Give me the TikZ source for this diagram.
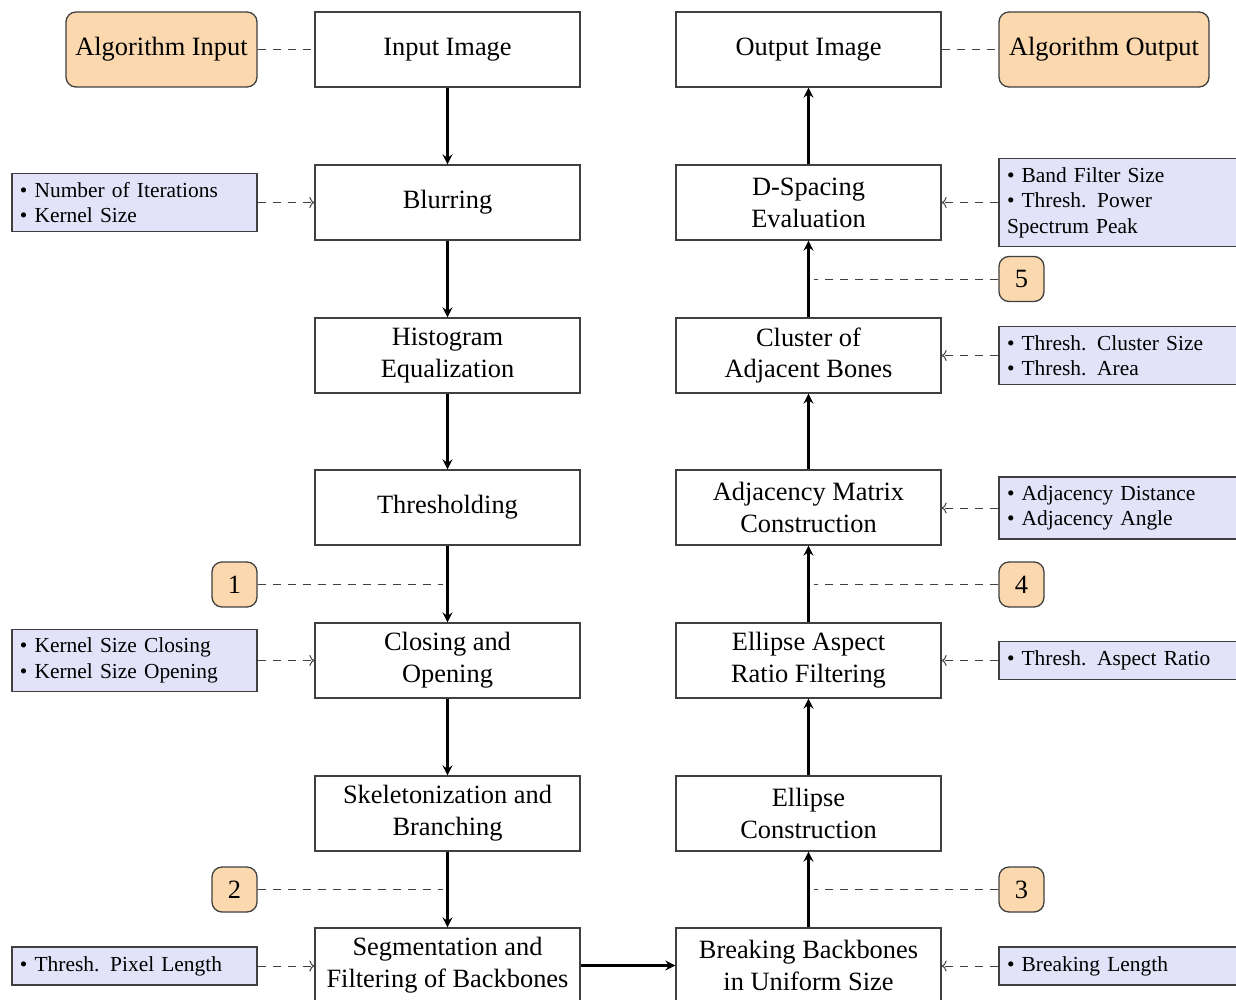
\documentclass[tikz,border=0pt]{standalone}
\usepackage{fontspec}
\setmainfont{Liberation Serif}
\usetikzlibrary{arrows.meta}
\definecolor{paramblue}{HTML}{E2E2F9}
\definecolor{ioorange}{HTML}{FBD8AE}
\definecolor{edge}{HTML}{404040}

\begin{document}
\begin{tikzpicture}[x=1bp,y=-1bp,
  procbox/.style={draw=edge, line width=1.3bp, fill=white, minimum width=265bp,
    minimum height=75bp, align=center, inner sep=0pt,
    font=\fontsize{26.5}{32}\selectfont},
  iobox/.style={draw=edge, line width=1.3bp, fill=ioorange, rounded corners=10bp,
    minimum height=75bp, inner sep=0pt, font=\fontsize{26.5}{32}\selectfont},
  parambox/.style={draw=edge, line width=1.3bp, fill=paramblue, text width=229bp,
    align=left, inner xsep=8bp, inner ysep=3bp,
    font=\fontsize{21.5}{25.5}\selectfont},
  badge/.style={draw=edge, line width=1.3bp, fill=ioorange, rounded corners=10bp,
    minimum size=45bp, inner sep=0pt, font=\fontsize{26.5}{32}\selectfont},
  flow/.style={line width=2.1bp, -{Stealth[length=10bp,width=10bp,inset=3.5bp]}},
  link/.style={draw=edge, line width=1bp, dash pattern=on 8bp off 7bp},
  feed/.style={link, -{To[length=5bp,width=11bp]}},
]
\clip (0,0) rectangle (1236,1000);
\fill[white] (0,0) rectangle (1236,1000);

% left column: preprocessing
\node[iobox, minimum width=191bp] (ain) at (161.5,49.5) {Algorithm Input};
\node[procbox] (in)    at (447.5,49.5)  {Input Image};
\node[procbox] (blur)  at (447.5,202.5) {Blurring};
\node[procbox] (hist)  at (447.5,355.5) {Histogram\\Equalization};
\node[procbox] (thr)   at (447.5,507.5) {Thresholding};
\node[procbox] (close) at (447.5,660.5) {Closing and\\Opening};
\node[procbox] (skel)  at (447.5,813.5) {Skeletonization and\\Branching};
\node[procbox] (seg)   at (447.5,965.5) {Segmentation and\\Filtering of Backbones};

% right column: bone analysis
\node[procbox] (out)  at (808.5,49.5)  {Output Image};
\node[iobox, minimum width=210bp] (aout) at (1104,49.5) {Algorithm Output};
\node[procbox] (dsp)  at (808.5,202.5) {D-Spacing\\Evaluation};
\node[procbox] (clu)  at (808.5,355.5) {Cluster of\\Adjacent Bones};
\node[procbox] (adj)  at (808.5,507.5) {Adjacency Matrix\\Construction};
\node[procbox] (asp)  at (808.5,660.5) {Ellipse Aspect\\Ratio Filtering};
\node[procbox] (ell)  at (808.5,813.5) {Ellipse\\Construction};
\node[procbox] (brk)  at (808.5,965.5) {Breaking Backbones\\in Uniform Size};

% parameter boxes
\node[parambox, minimum height=58bp] (pblur) at (134.5,202.5)
  {\textbullet\ Number of Iterations\\\textbullet\ Kernel Size};
\node[parambox, minimum height=62bp] (pclose) at (134.5,660.5)
  {\textbullet\ Kernel Size Closing\\\textbullet\ Kernel Size Opening};
\node[parambox, minimum height=38bp] (pseg) at (134.5,966)
  {\textbullet\ Thresh. Pixel Length};
\node[parambox, minimum height=88bp] (pdsp) at (1121.5,202.5)
  {\textbullet\ Band Filter Size\\\textbullet\ Thresh. Power\\Spectrum Peak};
\node[parambox, minimum height=58bp] (pclu) at (1121.5,355.5)
  {\textbullet\ Thresh. Cluster Size\\\textbullet\ Thresh. Area};
\node[parambox, minimum height=62bp] (padj) at (1121.5,508)
  {\textbullet\ Adjacency Distance\\\textbullet\ Adjacency Angle};
\node[parambox, minimum height=38bp] (pasp) at (1121.5,660.5)
  {\textbullet\ Thresh. Aspect Ratio};
\node[parambox, minimum height=38bp] (pbrk) at (1121.5,966)
  {\textbullet\ Breaking Length};

% stage markers
\node[badge] (b1) at (234.5,584.5)  {1};
\node[badge] (b2) at (234.5,889.5)  {2};
\node[badge] (b3) at (1021.5,889.5) {3};
\node[badge] (b4) at (1021.5,584.5) {4};
\node[badge] (b5) at (1021.5,279)   {5};
\coordinate (j1) at (443,584.5);
\coordinate (j2) at (443,889.5);
\coordinate (j3) at (814,889.5);
\coordinate (j4) at (814,584.5);
\coordinate (j5) at (814,279);

% processing flow
\draw[flow] (in) -- (blur);
\draw[flow] (blur) -- (hist);
\draw[flow] (hist) -- (thr);
\draw[flow] (thr) -- (close);
\draw[flow] (close) -- (skel);
\draw[flow] (skel) -- (seg);
\draw[flow] (seg) -- (brk);
\draw[flow] (brk) -- (ell);
\draw[flow] (ell) -- (asp);
\draw[flow] (asp) -- (adj);
\draw[flow] (adj) -- (clu);
\draw[flow] (clu) -- (dsp);
\draw[flow] (dsp) -- (out);

% input / output links
\draw[link] (ain) -- (in);
\draw[link] (out) -- (aout);

% parameter feeds
\draw[feed] (pblur.east) -- (pblur.east -| blur.west);
\draw[feed] (pclose.east) -- (pclose.east -| close.west);
\draw[feed] (pseg.east) -- (pseg.east -| seg.west);
\draw[feed] (pdsp.west) -- (pdsp.west -| dsp.east);
\draw[feed] (pclu.west) -- (pclu.west -| clu.east);
\draw[feed] (padj.west) -- (padj.west -| adj.east);
\draw[feed] (pasp.west) -- (pasp.west -| asp.east);
\draw[feed] (pbrk.west) -- (pbrk.west -| brk.east);

% stage marker links
\draw[link] (b1) -- (j1);
\draw[link] (b2) -- (j2);
\draw[link] (b3) -- (j3);
\draw[link] (b4) -- (j4);
\draw[link] (b5) -- (j5);
\end{tikzpicture}
\end{document}
